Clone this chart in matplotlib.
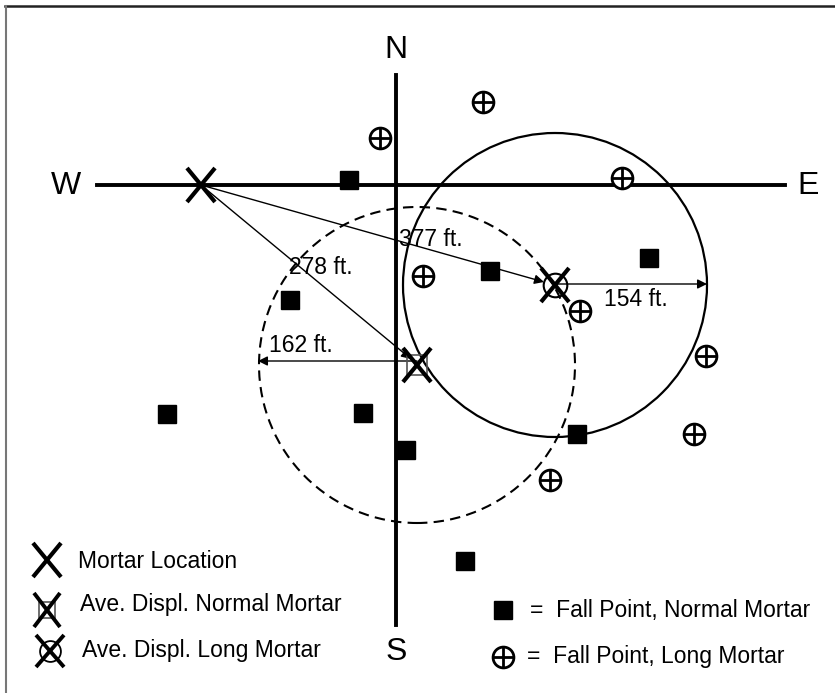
import matplotlib
matplotlib.use("Agg")
import matplotlib.pyplot as plt
from matplotlib.patches import Circle

plt.rcParams['font.family'] = ['Liberation Sans', 'DejaVu Sans']

# Coordenadas em pés: origem no cruzamento N-S / W-E, x para leste, y para norte
mortar = (-195, 0)
avg_normal = (21, -180)
avg_long = (159, -100)
radius_normal = 158   # 162 ft.
radius_long = 152     # 154 ft.

normal_x = [-47, 94, 253, -106, -229, -33, 10, 181, 69]
normal_y = [5, -86, -73, -115, -229, -228, -265, -249, -376]

long_x = [87, -16, 226, 27, 184, 310, 298, 154]
long_y = [83, 47, 7, -91, -126, -171, -249, -295]

dist_labels = ["377 ft.", "278 ft.", "162 ft.", "154 ft."]


def draw_x(ax, x, y, hw=14, hh=17, lw=3.0):
    # "X" desenhado com duas linhas
    ax.plot([x - hw, x + hw], [y + hh, y - hh], color='black', lw=lw,
            solid_capstyle='butt', zorder=8)
    ax.plot([x - hw, x + hw], [y - hh, y + hh], color='black', lw=lw,
            solid_capstyle='butt', zorder=8)


fig = plt.figure(figsize=(8.35, 6.93), dpi=100)
ax = fig.add_axes([0, 0, 1, 1])
ax.set_xlim(-396, 439)
ax.set_ylim(-508, 185)
ax.set_aspect('equal')
ax.axis('off')

# Moldura
ax.plot([-391, 439], [179, 179], color='#222222', lw=1.8)
ax.plot([-390, -390], [179, -508], color='#777777', lw=1.5)

# Eixos da rosa dos ventos
ax.plot([0, 0], [110, -440], color='black', lw=2.8)
ax.plot([-299, 389], [0, 0], color='black', lw=2.8)
tk = dict(fontsize=23, ha='center', va='center')
ax.text(0, 135, "N", **tk)
ax.text(0, -467, "S", **tk)
ax.text(-330, -1, "W", **tk)
ax.text(412, -1, "E", **tk)

# Círculos de dispersão
ax.add_patch(Circle(avg_long, radius_long, fill=False, lw=1.6, color='black'))
ax.add_patch(Circle(avg_normal, radius_normal, fill=False, lw=1.5, color='black',
                    linestyle=(0, (5, 3))))

arrow = dict(arrowstyle='-|>', lw=1.0, color='black', mutation_scale=14,
             shrinkA=0, shrinkB=0)
ax.annotate("", xy=(avg_long[0] - 11, avg_long[1] + 3), xytext=mortar, arrowprops=arrow)
ax.annotate("", xy=(avg_normal[0] - 6, avg_normal[1] + 6), xytext=mortar, arrowprops=arrow)
ax.annotate("", xy=(avg_normal[0] - radius_normal - 1, avg_normal[1] + 4),
            xytext=(avg_normal[0], avg_normal[1] + 4), arrowprops=arrow)
ax.annotate("", xy=(avg_long[0] + radius_long, avg_long[1] + 1),
            xytext=(avg_long[0], avg_long[1] + 1), arrowprops=arrow)

lk = dict(fontsize=16.5, ha='center', va='center')
ax.text(35, -55, dist_labels[0], **lk)
ax.text(-75, -83, dist_labels[1], **lk)
ax.text(-95, -161, dist_labels[2], **lk)
ax.text(240, -115, dist_labels[3], **lk)

# Pontos de queda
ax.plot(normal_x, normal_y, 's', color='black', markersize=13.5, zorder=5)
ax.plot(long_x, long_y, 'o', mfc='white', mec='black', mew=2.0, markersize=15, zorder=5)
ax.plot(long_x, long_y, '+', color='black', mew=2.0, markersize=15, zorder=6)

# Marcas X
draw_x(ax, *mortar)
ax.plot(*avg_normal, 's', mfc='none', mec='#555555', mew=1.2, markersize=14, zorder=6)
draw_x(ax, *avg_normal)
ax.plot(*avg_long, 'o', mfc='none', mec='black', mew=1.5, markersize=17, zorder=6)
draw_x(ax, *avg_long)

# Legenda
fs = 16.5
draw_x(ax, -349, -375)
ax.text(-318, -377, "Mortar Location", fontsize=fs, va='center')
ax.plot(-349, -425, 's', mfc='none', mec='#555555', mew=1.2, markersize=12)
draw_x(ax, -349, -425, hw=13, hh=17, lw=2.8)
ax.text(-316, -420, "Ave. Displ. Normal Mortar", fontsize=fs, va='center')
ax.plot(-346, -466, 'o', mfc='none', mec='black', mew=1.3, markersize=15)
draw_x(ax, -346, -466, hw=14, hh=16, lw=2.8)
ax.text(-314, -465, "Ave. Displ. Long Mortar", fontsize=fs, va='center')

ax.plot(107, -425, 's', color='black', markersize=13.5)
ax.text(134, -426, "=  Fall Point, Normal Mortar", fontsize=fs, va='center')
ax.plot(107, -472, 'o', mfc='white', mec='black', mew=2.0, markersize=15)
ax.plot(107, -472, '+', color='black', mew=2.0, markersize=15)
ax.text(131, -472, "=  Fall Point, Long Mortar", fontsize=fs, va='center')

fig.savefig("out.png", dpi=100)
